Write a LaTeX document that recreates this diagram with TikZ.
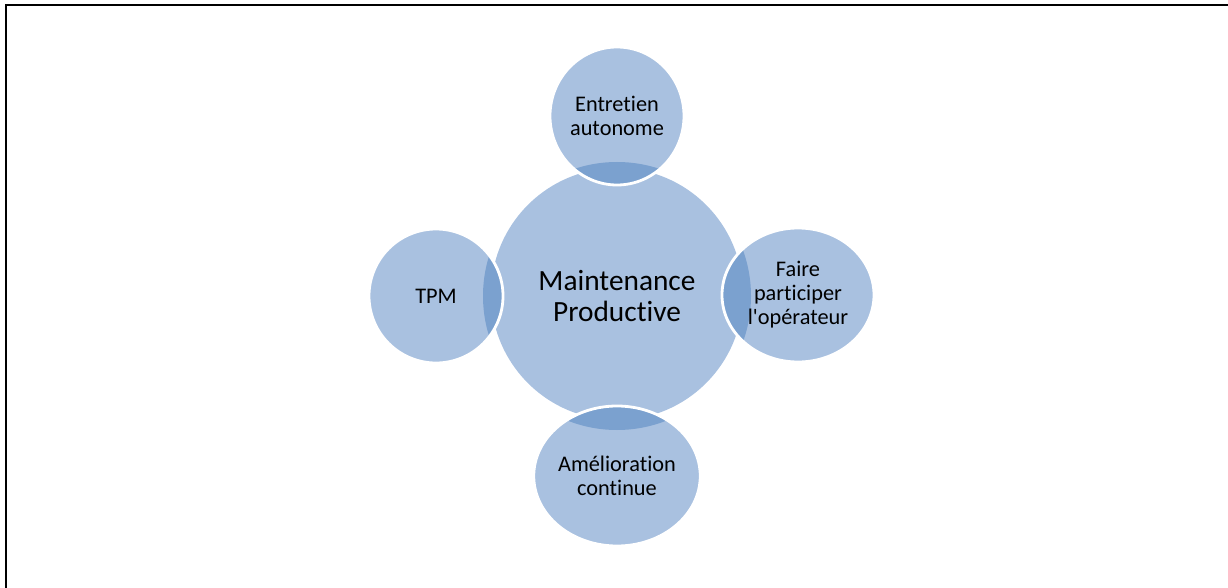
\documentclass[tikz,border=0pt]{standalone}
\usepackage{fontspec}
\setmainfont{Carlito}[RawFeature=-liga]
\usetikzlibrary{shapes.geometric}
\definecolor{lightblue}{HTML}{A9C1E0}
\definecolor{darkblue}{HTML}{7BA1CF}
\tikzset{satbox/.style={ellipse, inner sep=0pt, align=center, draw=white, line width=1.6pt, font=\fontsize{12.7}{13.6}\selectfont}}

\begin{document}
\begin{tikzpicture}[x=0.02cm,y=-0.02cm]
\useasboundingbox (0,0) rectangle (1228,588);
\draw[line width=1.3pt] (6,588)--(6,5)--(1228,5);

\fill[lightblue] (617,294) circle (126);

\foreach \name/\x/\y/\rx/\ry/\txt in {ea/617/116/67/69/{Entretien\\autonome},
  tpm/436/296/67/67/{TPM},
  fpo/798/295/76/67/{Faire\\participer\\l\textquotesingle op\'erateur},
  ac/617/476/83/70/{Am\'elioration\\continue}}
{
\fill[lightblue] (\x,\y) ellipse [x radius=\rx*0.02cm, y radius=\ry*0.02cm];
\begin{scope}
\clip (617,296) circle (134);
\fill[darkblue] (\x,\y) ellipse [x radius=\rx*0.02cm, y radius=\ry*0.02cm];
\end{scope}
\node[satbox, minimum width=2*\rx*0.02cm, minimum height=2*\ry*0.02cm] (\name) at (\x,\y) {\txt};
}

\node[align=center, font=\fontsize{16.7}{17.6}\selectfont] (mp) at (617,296) {Maintenance\\Productive};
\end{tikzpicture}
\end{document}
